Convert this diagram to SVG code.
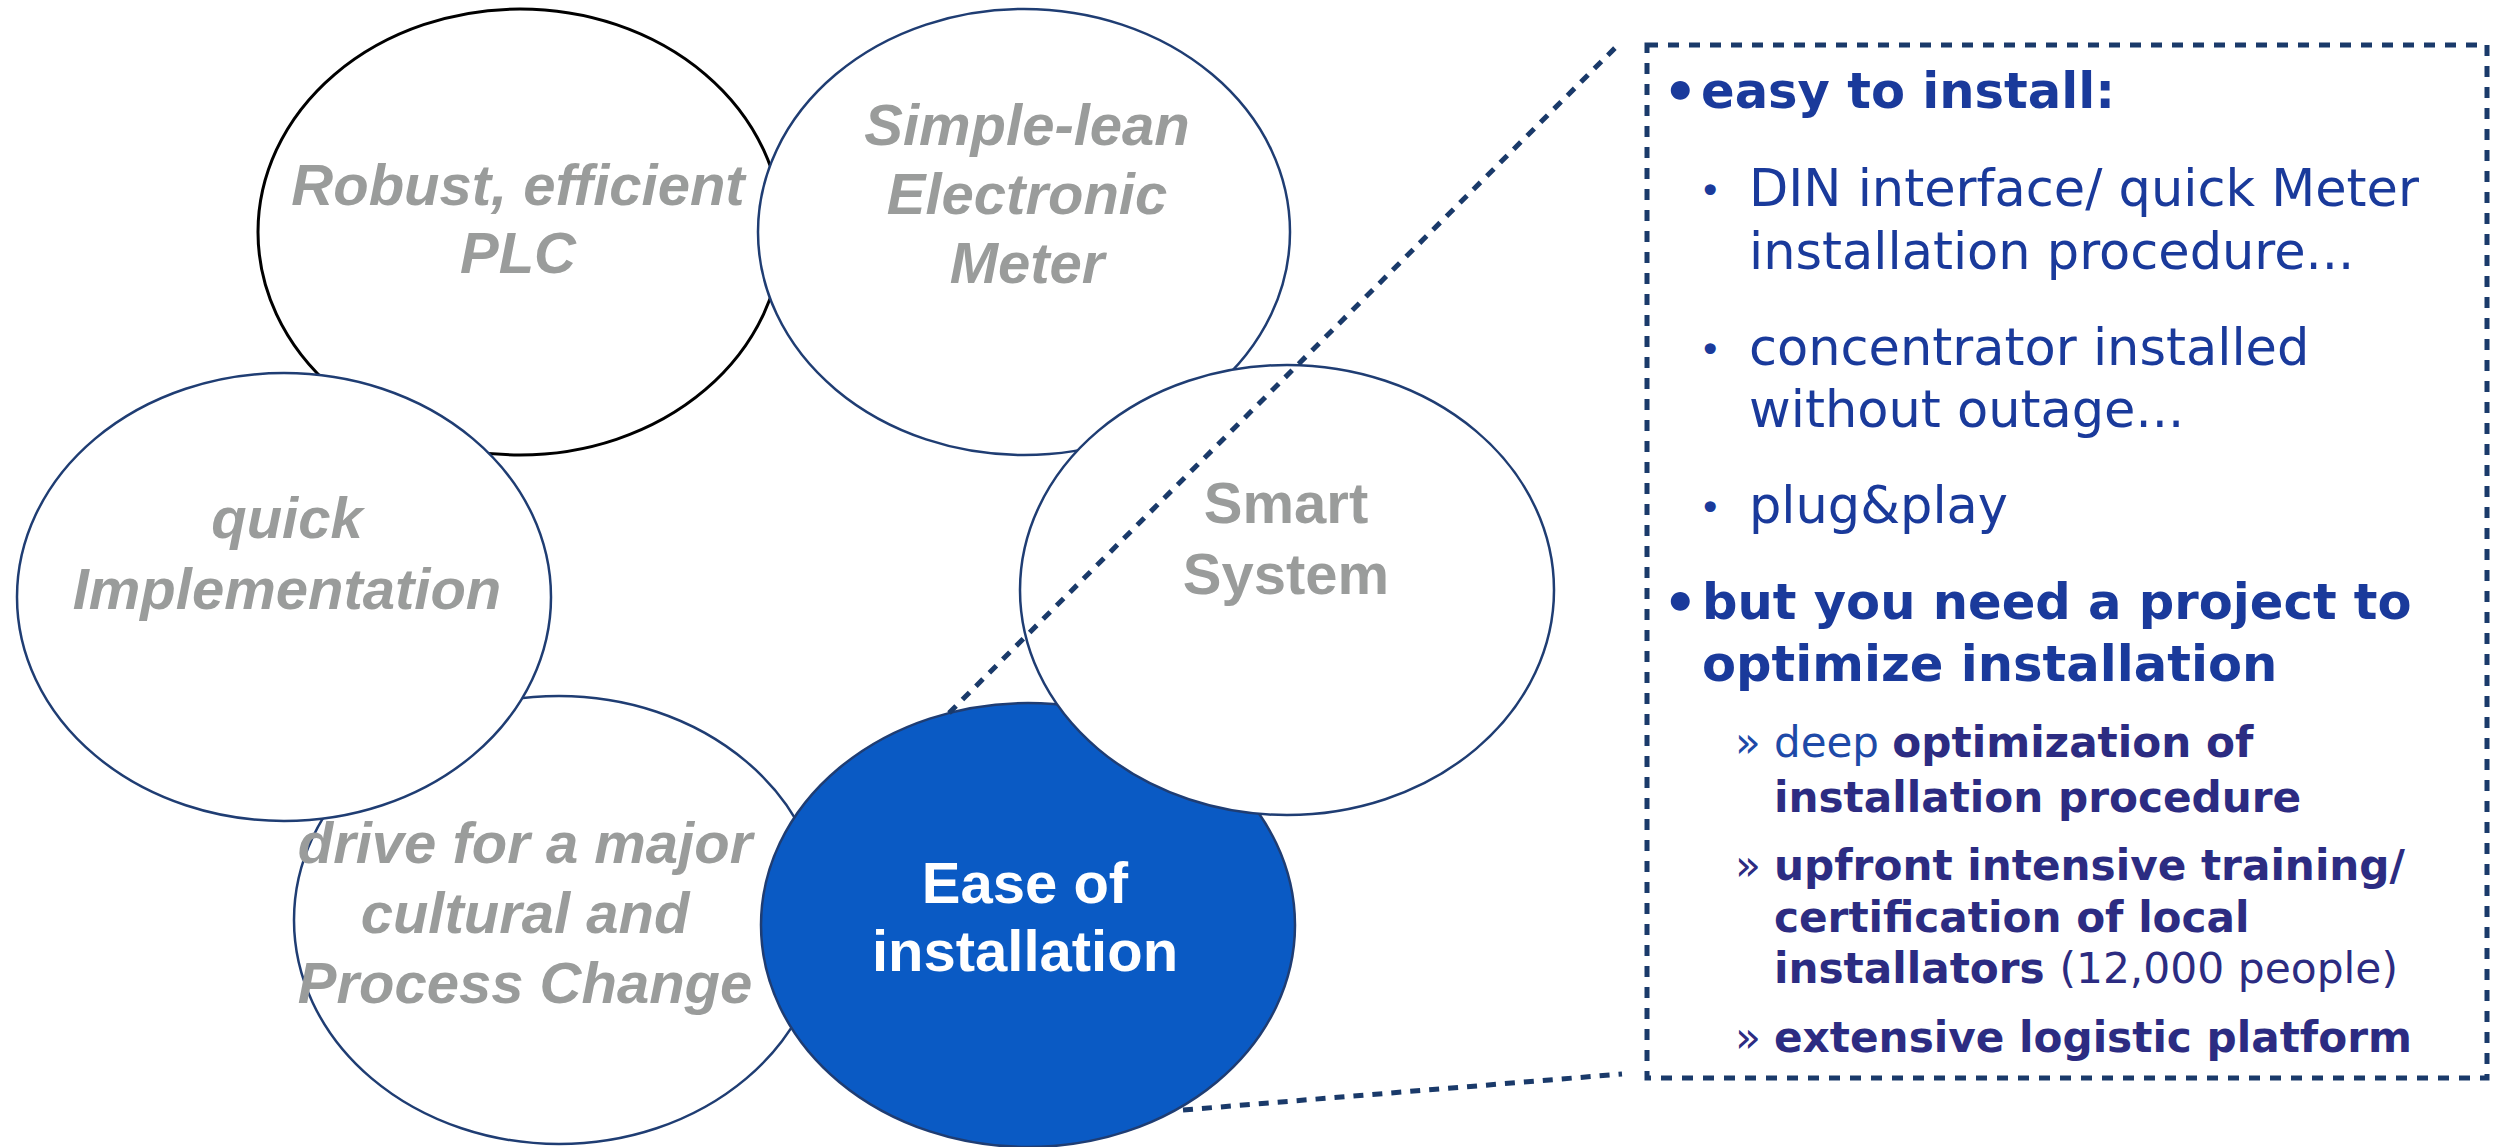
<svg xmlns="http://www.w3.org/2000/svg" width="2500" height="1147" viewBox="0 0 2500 1147">
<style>
.el{fill:#ffffff;stroke:#1f3d73;stroke-width:2.5}
.lbl{font-family:"Liberation Sans",Arial,sans-serif;font-weight:bold;font-style:italic;font-size:58px;fill:#9a9c9b;text-anchor:middle}
.up{font-style:normal}
.wt{fill:#ffffff;font-style:normal}
.conn{fill:none;stroke:#1a3a6a;stroke-width:5;stroke-dasharray:10 9}
.box{fill:none;stroke:#1a3a6a;stroke-width:5;stroke-dasharray:11 10}
.t{font-family:"DejaVu Sans",Verdana,sans-serif}
.h{font-weight:bold;font-size:49.6px;fill:#1a3a9b}
.r{font-size:51px;fill:#1a3a9b}
.b{font-size:54px;fill:#1a3a9b;font-weight:bold}
.sb{font-size:38px;fill:#1a3a9b}
.s{font-weight:bold;font-size:42.2px;fill:#2c2c82}
.sr{font-size:42.4px;fill:#2c2c82;font-weight:normal}
.dp{font-size:42px;fill:#1e4aa8;font-weight:normal}
</style>
<g id="node-plc">
<ellipse cx="520" cy="232" rx="262" ry="223" class="el" style="stroke:#000000;stroke-width:3"/>
<text class="lbl" x="518" y="205">Robust, efficient</text>
<text class="lbl" x="518" y="273">PLC</text>
</g>
<g id="node-meter">
<ellipse cx="1024" cy="232" rx="266" ry="223" class="el"/>
<text class="lbl" x="1027" y="145">Simple-lean</text>
<text class="lbl" x="1027" y="214">Electronic</text>
<text class="lbl" x="1027" y="283">Meter</text>
</g>
<g id="node-drive">
<ellipse cx="559" cy="920" rx="265" ry="224" class="el"/>
<text class="lbl" x="525" y="863">drive for a major</text>
<text class="lbl" x="525" y="933">cultural and</text>
<text class="lbl" x="525" y="1003">Process Change</text>
</g>
<g id="node-quick">
<ellipse cx="284" cy="597" rx="267" ry="224" class="el"/>
<text class="lbl" x="287" y="538">quick</text>
<text class="lbl" x="287" y="609">Implementation</text>
</g>
<g id="node-ease">
<ellipse cx="1028" cy="925" rx="267" ry="222" class="el" style="fill:#0a5ac4"/>
<text class="lbl wt" x="1025" y="903">Ease of</text>
<text class="lbl wt" x="1025" y="971">installation</text>
</g>
<g id="node-smart">
<ellipse cx="1287" cy="590" rx="267" ry="225" class="el"/>
<text class="lbl up" x="1286" y="523">Smart</text>
<text class="lbl up" x="1286" y="594">System</text>
</g>
<g id="connectors">
<line x1="949" y1="713" x2="1618" y2="45" class="conn"/>
<line x1="1183" y1="1110" x2="1622" y2="1074" class="conn"/>
</g>
<g id="node-details">
<rect x="1647" y="45" width="840" height="1033" class="box"/>
<g class="t">
<text class="b" x="1663" y="110">•</text>
<text class="h" x="1701" y="108">easy to install:</text>
<text class="sb" x="1699" y="204">•</text>
<text class="r" x="1749" y="206">DIN interface/ quick Meter</text>
<text class="r" x="1749" y="269">installation procedure...</text>
<text class="sb" x="1699" y="363">•</text>
<text class="r" x="1749" y="365">concentrator installed</text>
<text class="r" x="1749" y="427">without outage...</text>
<text class="sb" x="1699" y="521">•</text>
<text class="r" x="1749" y="523">plug&amp;play</text>
<text class="b" x="1663" y="621">•</text>
<text class="h" x="1702" y="619">but you need a project to</text>
<text class="h" x="1702" y="681">optimize installation</text>
<text class="dp" x="1735" y="757">»</text>
<text x="1774" y="757"><tspan class="dp">deep </tspan><tspan class="s">optimization of</tspan></text>
<text class="s" x="1774" y="812">installation procedure</text>
<text class="sr" x="1735" y="880">»</text>
<text class="s" x="1774" y="880">upfront intensive training/</text>
<text class="s" x="1774" y="932">certification of local</text>
<text x="1774" y="983"><tspan class="s">installators </tspan><tspan class="sr">(12,000 people)</tspan></text>
<text class="sr" x="1735" y="1052">»</text>
<text class="s" x="1774" y="1052">extensive logistic platform</text>
</g>
</g>
</svg>
